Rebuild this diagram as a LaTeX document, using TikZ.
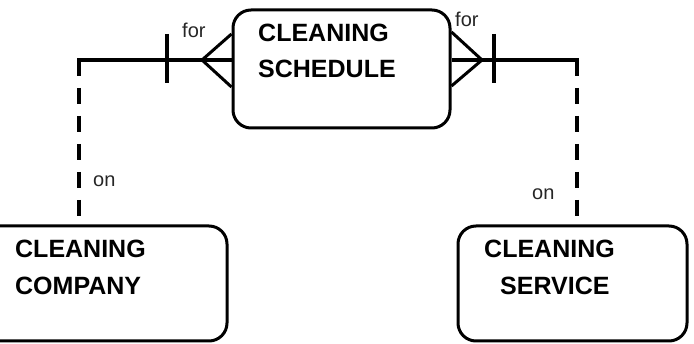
\documentclass[tikz,border=0pt]{standalone}
\usepackage{fontspec}
\setmainfont{Liberation Sans}
\usetikzlibrary{calc}
\begin{document}
\begin{tikzpicture}[x=1pt,y=-1pt,
  entity/.style={draw, line width=3pt, rounded corners=18pt, inner sep=0pt},
  title/.style={font=\fontsize{25}{30}\selectfont\bfseries, anchor=base west, inner sep=0pt},
  rolelabel/.style={font=\fontsize{20}{24}\selectfont, anchor=base west, inner sep=0pt, text=black!85},
  rel/.style={line width=4pt},
  foot/.style={line width=3pt},
  opt/.style={line width=4pt, dash pattern=on 16pt off 12pt},
]
\useasboundingbox (0,0) rectangle (694,344);
\clip (0,0) rectangle (694,344);

% entities
\node[entity, minimum width=217pt, minimum height=118pt] (sched) at (341.5,69) {};
\node[entity, minimum width=267pt, minimum height=115pt] (comp) at (93.5,283.5) {};
\node[entity, minimum width=229pt, minimum height=115pt] (serv) at (572.5,283.5) {};

% entity names
\node[title] (schedA) at (258,42) {CLEANING};
\node[title] (schedB) at (258,78) {SCHEDULE};
\node[title] (compA) at (15,258) {CLEANING};
\node[title] (compB) at (15,295) {COMPANY};
\node[title] (servA) at (484,258) {CLEANING};
\node[title] (servB) at (500,295) {SERVICE};

% relationship bends, crow's-foot apexes and bars
\coordinate (lc) at (79,60);
\coordinate (rc) at (577,60);
\coordinate (lap) at (202,60);
\coordinate (rap) at (482,60);
\coordinate (lt) at (167,60);
\coordinate (rt) at (494,60);

% left relationship: schedule -- company
\draw[rel, line join=miter] (sched.west |- lc) -- (lc) -- ($(lc)+(0,10)$);
\draw[opt] (lc) -- (lc |- comp.north);
\draw[rel] ($(lt)+(0,-26)$) -- ($(lt)+(0,23)$);
\draw[foot] ($(sched.west |- lc)+(0,-26)$) -- (lap) -- ($(sched.west |- lc)+(0,27)$);

% right relationship: schedule -- service
\draw[rel, line join=miter] (sched.east |- rc) -- (rc) -- ($(rc)+(0,10)$);
\draw[opt] (rc) -- (rc |- serv.north);
\draw[rel] ($(rt)+(0,-26)$) -- ($(rt)+(0,23)$);
\draw[foot] ($(sched.east |- rc)+(0,-28)$) -- (rap) -- ($(sched.east |- rc)+(0,26)$);

% role labels
\node[rolelabel] (forL) at (182,38) {for};
\node[rolelabel] (forR) at (455,27) {for};
\node[rolelabel] (onL) at (93,187) {on};
\node[rolelabel] (onR) at (532,200) {on};
\end{tikzpicture}
\end{document}
